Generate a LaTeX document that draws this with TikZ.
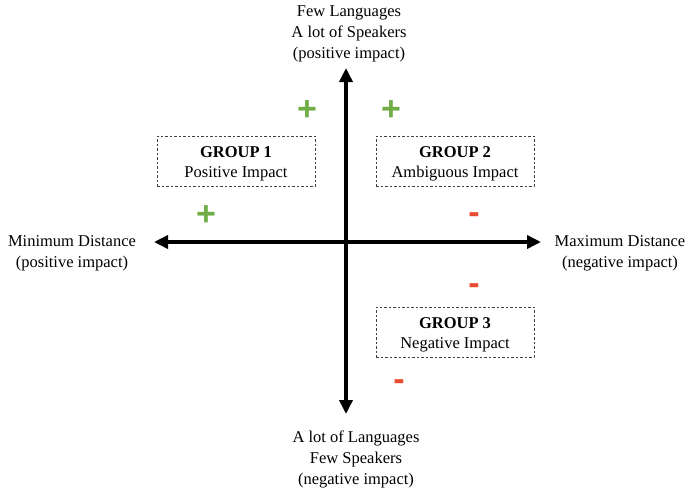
\documentclass[tikz,border=0pt]{standalone}
\usepackage{fontspec}
\setmainfont{Liberation Serif}
\newfontfamily\signfont{Liberation Sans}
\usetikzlibrary{arrows.meta}
\definecolor{plusgreen}{RGB}{112,173,71}
\definecolor{minusred}{RGB}{234,76,50}
\newcommand{\grouptitle}[1]{\rule{0pt}{17pt}\textbf{#1}}

\begin{document}
\begin{tikzpicture}[x=1pt,y=-1pt,
  axis/.style={line width=3.5pt, {Triangle[length=14pt,width=13pt]}-{Triangle[length=14pt,width=13pt]}},
  lbl/.style={align=center, inner sep=0pt, font=\fontsize{16.5}{21}\selectfont},
  group/.style={draw=black!75, dashed, dash pattern=on 2.5pt off 2pt, thick, minimum width=158pt, minimum height=50pt, align=center, font=\fontsize{16.5}{20}\selectfont},
  plus/.style={text=plusgreen, inner sep=0pt, yshift=-2pt, font=\signfont\bfseries\fontsize{34}{34}\selectfont},
  minus/.style={text=minusred, inner sep=0pt, yshift=-3pt, font=\signfont\bfseries\fontsize{34}{34}\selectfont}]
\useasboundingbox (0,0) rectangle (690,490);
% axes
\coordinate (o) at (346,242);
\coordinate (xmin) at (154,242);
\coordinate (xmax) at (541,242);
\coordinate (ymax) at (346,68);
\coordinate (ymin) at (346,414);
\draw[axis] (xmin) -- (xmax);
\draw[axis] (ymin) -- (ymax);
% axis labels
\node[lbl] (top) at (349,34) {Few Languages\\A lot of Speakers\\(positive impact)};
\node[lbl] (bottom) at (356,459) {A lot of Languages\\Few Speakers\\(negative impact)};
\node[lbl] (left) at (72,253) {Minimum Distance\\(positive impact)};
\node[lbl] (right) at (620,253) {Maximum Distance\\(negative impact)};
% groups
\node[group] (g1) at (236,161) {\grouptitle{GROUP 1}\\Positive Impact};
\node[group] (g2) at (455,161) {\grouptitle{GROUP 2}\\Ambiguous Impact};
\node[group] (g3) at (455,332) {\grouptitle{GROUP 3}\\Negative Impact};
% signs
\node[plus] (p1) at (307,109) {+};
\node[plus] (p2) at (391,109) {+};
\node[plus] (p3) at (206,214) {+};
\node[minus] (m1) at (474,215) {-};
\node[minus] (m2) at (474,286) {-};
\node[minus] (m3) at (399,382) {-};
\end{tikzpicture}
\end{document}
